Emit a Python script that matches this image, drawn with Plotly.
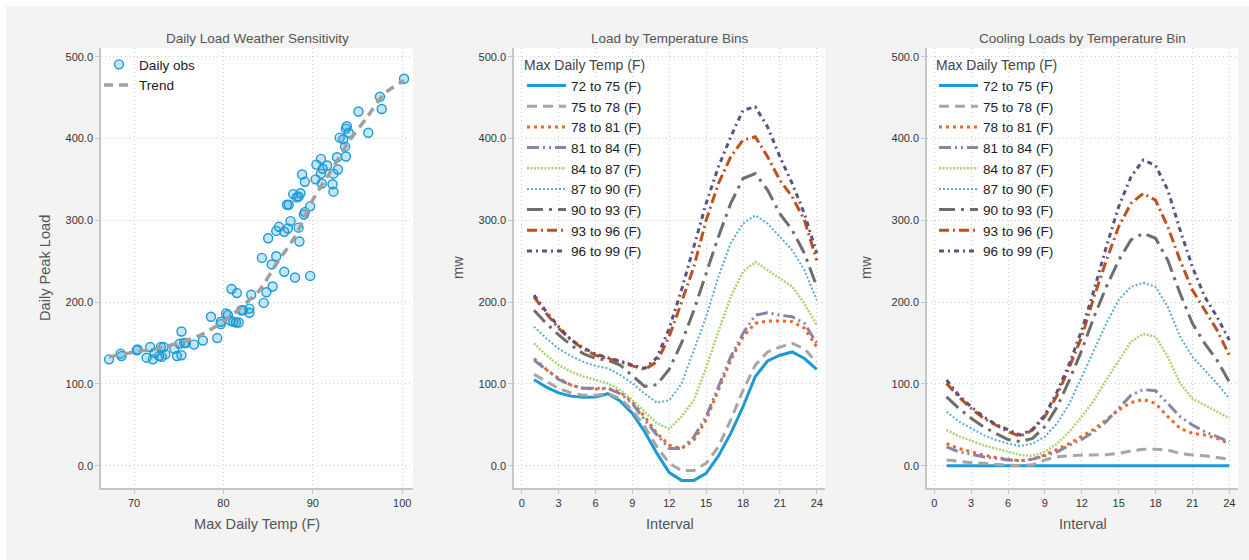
import plotly.graph_objects as go

W, H = 1249, 560

# ---------------- data ----------------
obs_temp = [67.2, 68.5, 68.6, 70.3, 70.4, 71.4, 71.8, 72.1, 72.3, 72.8, 73.0, 73.3, 73.1, 73.5,
            74.5, 74.8, 75.3, 75.3, 75.1, 75.6, 75.8, 76.7, 77.7, 78.6, 79.3, 79.7, 79.7, 80.3,
            80.5, 80.8, 81.1, 81.4, 81.7, 80.9, 81.5, 82.0, 82.2, 82.9, 82.9, 83.1, 84.5, 84.8,
            85.5, 84.3, 85.9, 85.4, 86.8, 88.0, 89.7, 85.0, 88.5, 86.2, 85.9, 87.2, 86.8, 88.4,
            87.5, 89.1, 89.0, 89.7, 87.1, 87.3, 87.8, 88.2, 88.6, 88.4, 88.8, 89.1, 90.3, 91.0,
            92.2, 92.3, 90.9, 92.3, 92.8, 90.9, 90.4, 91.6, 91.1, 92.7, 93.7, 93.0, 93.4, 93.6,
            93.8, 93.7, 94.0, 96.2, 95.1, 97.5, 97.7, 100.2]
obs_load = [130, 137, 134, 141, 142, 132, 145, 130, 138, 134, 145, 145, 133, 136,
            143, 134, 135, 164, 149, 150, 150, 148, 153, 182, 156, 173, 176, 186,
            184, 177, 176, 175, 175, 216, 211, 190, 190, 192, 187, 209, 199, 212,
            219, 254, 256, 246, 237, 230, 232, 278, 274, 292, 287, 290, 286, 291,
            299, 310, 307, 317, 319, 319, 332, 328, 333, 329, 356, 347, 350, 345,
            344, 335, 357, 357, 362, 375, 368, 367, 363, 377, 378, 401, 399, 390,
            415, 412, 407, 407, 433, 451, 436, 473]

trend_temp = [67.2, 70, 72.5, 75, 77.5, 80, 82, 84, 86, 88, 90, 92, 94, 96, 98, 100.2]
trend_load = [133, 139, 143, 150, 160, 176, 194, 214, 248, 280, 325, 360, 396, 425, 455, 471]

interval = list(range(1, 25))
bin_names = ["72 to 75 (F)", "75 to 78 (F)", "78 to 81 (F)", "81 to 84 (F)", "84 to 87 (F)",
             "87 to 90 (F)", "90 to 93 (F)", "93 to 96 (F)", "96 to 99 (F)"]

load_72 = [105, 96, 89, 85, 83.5, 84, 88, 79, 64, 41.5, 15, -8.5, -18, -18, -9.4, 12, 39.5, 72, 109, 128, 135, 139, 131, 117.7]
load_75 = [111.6, 102.6, 94.5, 89, 86, 86, 88, 82, 68, 47.7, 23, 3, -6, -6, 3, 23, 56, 92, 123, 139, 145, 149.5, 143, 126]
load_78 = [131, 117.7, 106.7, 98.6, 94.5, 93.7, 94.5, 90, 78, 60, 39.5, 25, 21, 31, 56, 92.5, 129, 157.6, 174, 177, 177, 176, 168, 145]
load_81 = [129, 117, 105.5, 98.6, 94.5, 94.5, 94.5, 88, 76, 56, 37.5, 21, 21, 35, 60, 96.5, 133, 161.7, 184, 187, 184, 182, 174, 149.5]
load_84 = [149.5, 135, 123, 115, 109, 104.7, 100.6, 92.5, 80, 66, 51.7, 45, 60, 80, 120, 164, 206.5, 237, 249, 239, 229, 219, 198, 172]
load_87 = [170, 155.6, 143, 134, 127, 122, 119, 111, 100.6, 88, 77, 80, 100, 140, 182, 231, 272, 296, 306, 296, 280, 263.5, 239, 202]
load_90 = [190, 174, 160, 147.5, 137, 131, 129, 123, 110, 97, 99, 118, 150, 190, 235, 280, 320.6, 351, 357, 337, 308, 288, 259.5, 218.7]
load_93 = [206.5, 186, 168, 153.6, 143, 135, 131, 127, 122, 117.7, 127, 158, 200, 243, 300, 345, 377.6, 398, 402, 377.6, 349, 328.7, 300, 251]
load_96 = [208.5, 188, 170, 154, 144, 136.5, 132, 128, 123, 119, 132, 168, 215, 267.6, 320.6, 365.4, 402, 434.6, 438.7, 414, 377.6, 345, 308, 259.5]

cool_72 = [0] * 24
cool_75 = [7, 5, 3.7, 3, 1.5, 0.5, 0, 1, 7, 11, 12, 13, 13, 13.5, 15, 18, 20, 20, 19, 15, 13, 12, 10, 8]
cool_78 = [27, 21, 17, 13, 10, 8, 6, 8, 13, 20, 27, 36, 44.5, 56, 68, 77, 81, 76, 60, 45.7, 39.5, 37.5, 33.4, 27]
cool_81 = [23, 17, 14, 11, 9, 7, 6, 8, 12, 17, 25, 32, 41.6, 54, 70, 86, 93, 91.6, 76, 60, 49.7, 41.6, 35.5, 29]
cool_84 = [43.7, 36, 30.6, 25, 21, 17, 13, 12, 17, 27, 41.6, 60, 80, 105, 129, 151.6, 161, 157.6, 133, 100.6, 82, 74, 66, 58]
cool_87 = [66, 54, 45.7, 37.5, 31.4, 27, 24, 27, 35.5, 52, 76, 109, 141, 174, 202.5, 218.7, 223.5, 218.7, 194, 157.6, 133, 117, 100.6, 82]
cool_90 = [84, 70, 58, 47.7, 39.5, 32, 29.3, 33.4, 47.7, 72, 105, 141, 182, 218.7, 251, 276, 284, 278, 251, 210.6, 174, 149.5, 129, 102.6]
cool_93 = [100.6, 84, 70, 58, 49.7, 41.6, 36, 43.6, 60, 86, 121, 157.6, 206.5, 251, 292, 320.6, 332.8, 324.6, 292, 251, 214.7, 190, 165.8, 135]
cool_96 = [104.7, 86, 72, 60, 50.5, 43.6, 37.5, 44.5, 62, 90.5, 125, 165.8, 214.7, 267.6, 316.5, 353, 373.5, 367, 337, 288, 243, 206.5, 182, 153.6]

load_series = [load_72, load_75, load_78, load_81, load_84, load_87, load_90, load_93, load_96]
cool_series = [cool_72, cool_75, cool_78, cool_81, cool_84, cool_87, cool_90, cool_93, cool_96]

y_ticks = [0, 100, 200, 300, 400, 500]
x1_ticks = [70, 80, 90, 100]
x2_ticks = [0, 3, 6, 9, 12, 15, 18, 21, 24]

# ---------------- styles ----------------
styles = [
    dict(color="#1d9ad6", width=3, dash="solid"),
    dict(color="#a6a6a6", width=3, dash="10px,6px"),
    dict(color="#f26522", width=3, dash="3px,4px"),
    dict(color="#8c82a8", width=3, dash="12px,4px,2px,4px,2px,4px"),
    dict(color="#a9d46f", width=2.5, dash="2px,1.5px"),
    dict(color="#5ca9d6", width=2, dash="2px,2px"),
    dict(color="#6e6e6e", width=3, dash="16px,6px,3px,6px"),
    dict(color="#c0501e", width=3, dash="10px,4px,2px,4px"),
    dict(color="#5b5280", width=3, dash="5px,4px,2px,4px"),
]

FONT = "Liberation Sans, Arial, sans-serif"
BG = "#f3f3f3"
GRID = "#cdcdcd"
AXL = "#c6c6c6"


def px_x(p):
    return p / W


def px_y(p):
    return 1 - p / H


fig = go.Figure()

# panel 1
fig.add_trace(go.Scatter(
    x=obs_temp, y=obs_load, mode="markers", name="Daily obs",
    marker=dict(symbol="circle", size=9, color="rgba(29,154,214,0.26)",
                line=dict(color="#1d9ad6", width=1.4)),
    xaxis="x", yaxis="y", legend="legend"))
fig.add_trace(go.Scatter(
    x=trend_temp, y=trend_load, mode="lines", name="Trend",
    line=dict(color="#a0a0a0", width=3.5, dash="9px,6px", shape="spline", smoothing=0.6),
    xaxis="x", yaxis="y", legend="legend"))

for name, ys, st in zip(bin_names, load_series, styles):
    fig.add_trace(go.Scatter(x=interval, y=ys, mode="lines", name=name, line=st,
                             xaxis="x2", yaxis="y2", legend="legend2"))
for name, ys, st in zip(bin_names, cool_series, styles):
    fig.add_trace(go.Scatter(x=interval, y=ys, mode="lines", name=name, line=st,
                             xaxis="x3", yaxis="y3", legend="legend3"))

panels = [(101, 413), (514, 825), (927, 1238)]
ydom = [px_y(488), px_y(48)]
yrange = [-27.3, 510.6]

common_axis = dict(showline=True, linecolor=AXL, linewidth=1.5, ticks="outside", ticklen=4,
                   tickcolor=AXL, tickwidth=1.2, showgrid=True, gridcolor=GRID, griddash="1px,3px",
                   gridwidth=1, zeroline=False, tickfont=dict(family=FONT, size=11, color="#333"))

layout = dict(
    width=W, height=H, margin=dict(l=0, r=0, t=0, b=0),
    paper_bgcolor=BG, plot_bgcolor="white", font=dict(family=FONT),
    showlegend=True,
)
layout["xaxis"] = dict(domain=[px_x(panels[0][0]), px_x(panels[0][1])], range=[66.3, 101.2],
                       tickvals=x1_ticks, anchor="y", **common_axis)
layout["yaxis"] = dict(domain=ydom, range=yrange, tickvals=y_ticks, tickformat=".1f",
                       anchor="x", **common_axis)
layout["xaxis2"] = dict(domain=[px_x(panels[1][0]), px_x(panels[1][1])], range=[-0.63, 24.67],
                        tickvals=x2_ticks, anchor="y2", **common_axis)
layout["yaxis2"] = dict(domain=ydom, range=yrange, tickvals=y_ticks, tickformat=".1f",
                        anchor="x2", **common_axis)
layout["xaxis3"] = dict(domain=[px_x(panels[2][0]), px_x(panels[2][1])], range=[-0.59, 24.71],
                        tickvals=x2_ticks, anchor="y3", **common_axis)
layout["yaxis3"] = dict(domain=ydom, range=yrange, tickvals=y_ticks, tickformat=".1f",
                        anchor="x3", **common_axis)

leg_common = dict(bgcolor="rgba(0,0,0,0)", font=dict(family=FONT, size=13.6, color="#222"),
                  xanchor="left", yanchor="top", tracegroupgap=0)
layout["legend"] = dict(x=px_x(99), y=px_y(49), **leg_common)
layout["legend2"] = dict(x=px_x(522), y=px_y(52), itemwidth=39,
                         title=dict(text="Max Daily Temp (F)", font=dict(family=FONT, size=14, color="#444")),
                         **leg_common)
layout["legend3"] = dict(x=px_x(934), y=px_y(52), itemwidth=39,
                         title=dict(text="Max Daily Temp (F)", font=dict(family=FONT, size=14, color="#444")),
                         **leg_common)

ann = []
titles = ["Daily Load Weather Sensitivity", "Load by Temperature Bins", "Cooling Loads by Temperature Bin"]
for (l, r), t in zip(panels, titles):
    ann.append(dict(text=t, x=px_x((l + r) / 2), y=px_y(39), xref="paper", yref="paper",
                    showarrow=False, xanchor="center", yanchor="middle",
                    font=dict(family=FONT, size=13.5, color="#555")))
xtitles = ["Max Daily Temp (F)", "Interval", "Interval"]
for (l, r), t in zip(panels, xtitles):
    ann.append(dict(text=t, x=px_x((l + r) / 2), y=px_y(524), xref="paper", yref="paper",
                    showarrow=False, xanchor="center", yanchor="middle",
                    font=dict(family=FONT, size=14.6, color="#555")))
for xc, t in zip([45, 458, 866], ["Daily Peak Load", "mw", "mw"]):
    ann.append(dict(text=t, x=px_x(xc), y=px_y(268), xref="paper", yref="paper", textangle=-90,
                    showarrow=False, xanchor="center", yanchor="middle",
                    font=dict(family=FONT, size=14.6, color="#555")))
layout["annotations"] = ann

layout["shapes"] = [
    dict(type="rect", xref="paper", yref="paper", x0=0, x1=px_x(6), y0=0, y1=1,
         fillcolor="white", line=dict(width=0), layer="below"),
    dict(type="rect", xref="paper", yref="paper", x0=0, x1=1, y0=px_y(6), y1=1,
         fillcolor="white", line=dict(width=0), layer="below"),
]

fig.update_layout(**layout)
fig.write_html("out.html")
